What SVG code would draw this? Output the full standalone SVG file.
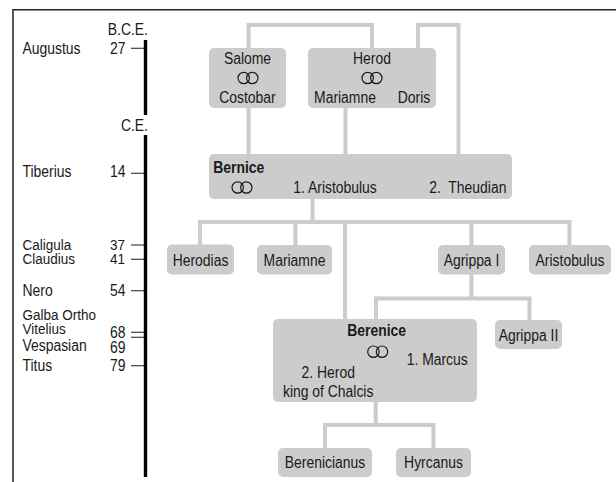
<svg xmlns="http://www.w3.org/2000/svg" width="616" height="482" viewBox="0 0 616 482">
<style>
.t{font-family:"Liberation Sans",Arial,sans-serif;font-size:16px;fill:#1a1a1a;white-space:pre}
.s{font-size:15.5px}
.b{font-weight:bold}
.m{text-anchor:middle}
.e{text-anchor:end}
.box{fill:#cccccc}
.con{fill:none;stroke:#cccccc;stroke-width:4}
.tick{stroke:#1a1a1a;stroke-width:1.1}
.ring{fill:none;stroke:#1a1a1a;stroke-width:1.2}
</style>
<defs>
<g id="rings"><circle class="ring" cx="-4.3" cy="0" r="5.7"/><circle class="ring" cx="4.3" cy="0" r="5.7"/></g>
</defs>
<rect width="616" height="482" fill="#ffffff"/>
<g id="frame" fill="none" stroke="#222222" stroke-width="1.5">
<path d="M13 482 V9.75 H616"/>
</g>
<g id="timeline">
<path d="M145.5 40 V115 M145.5 135 V477" stroke="#000000" stroke-width="3.4"/>
<path class="tick" d="M131 48.3 H145 M131 173.3 H145 M131 245 H145 M131 259.3 H145 M131 290.7 H145 M131 332.3 H145 M131 337.3 H145 M131 365.7 H145"/>
<g transform="scale(0.87 1)">
<text class="t e" x="170.11" y="35">B.C.E.</text>
<text class="t e" x="170.11" y="131">C.E.</text>
<text class="t" x="25.86" y="54.5">Augustus</text>
<text class="t" x="126.44" y="54.5">27</text>
<text class="t" x="25.86" y="177.3">Tiberius</text>
<text class="t" x="126.44" y="177.3">14</text>
<text class="t s" x="25.86" y="250">Caligula</text>
<text class="t s" x="126.44" y="250">37</text>
<text class="t s" x="25.86" y="264.3">Claudius</text>
<text class="t s" x="126.44" y="264.3">41</text>
<text class="t" x="25.86" y="296">Nero</text>
<text class="t" x="126.44" y="296">54</text>
<text class="t s" x="25.86" y="320.3">Galba Ortho</text>
<text class="t s" x="25.86" y="334.4">Vitelius</text>
<text class="t" x="126.44" y="338.3">68</text>
<text class="t" x="25.86" y="350.7">Vespasian</text>
<text class="t" x="126.44" y="353.3">69</text>
<text class="t" x="25.86" y="370.7">Titus</text>
<text class="t" x="126.44" y="370.7">79</text>
</g>
</g>
<g id="connectors">
<path class="con" d="M248.5 48 V25 H372 V48"/>
<path class="con" d="M418 48 V25 H458.5 V154"/>
<path class="con" d="M248.5 108 V154 M345.5 108 V154"/>
<path class="con" d="M312.5 199 V222"/>
<path class="con" d="M200 245 V222 H569.5 V245 M295.5 222 V245 M345 222 V319 M471.5 222 V245"/>
<path class="con" d="M471.5 274 V298.5 M376 319 V298.5 H529.5 V320"/>
<path class="con" d="M375.7 402 V425 M325 448 V425 H433.5 V448"/>
</g>
<g id="salome">
<rect class="box" x="209" y="48" width="77" height="60" rx="5"/>
<use href="#rings" x="248" y="78"/>
<g transform="scale(0.87 1)"><text class="t m" x="284.48" y="64.3">Salome</text><text class="t m" x="284.48" y="103.3">Costobar</text></g>
</g>
<g id="herod">
<rect class="box" x="308" y="48" width="128" height="60" rx="5"/>
<use href="#rings" x="372" y="78"/>
<g transform="scale(0.87 1)"><text class="t m" x="427.59" y="64.3">Herod</text><text class="t m" x="396.55" y="103.3">Mariamne</text><text class="t m" x="475.86" y="103.3">Doris</text></g>
</g>
<g id="bernice">
<rect class="box" x="209" y="154" width="303" height="45" rx="5"/>
<use href="#rings" x="242" y="187.5"/>
<g transform="scale(0.87 1)"><text class="t b" x="245.17" y="172.8">Bernice</text><text class="t" x="337.13" y="193.3">1. Aristobulus</text><text class="t" x="493.45" y="193.3">2.  Theudian</text></g>
</g>
<g id="herodias">
<rect class="box" x="167" y="244.5" width="67" height="30" rx="5"/>
<g transform="scale(0.87 1)"><text class="t m" x="230.46" y="266">Herodias</text></g>
</g>
<g id="mariamne">
<rect class="box" x="257" y="245" width="75" height="29.5" rx="5"/>
<g transform="scale(0.87 1)"><text class="t m" x="338.51" y="266">Mariamne</text></g>
</g>
<g id="agrippa1">
<rect class="box" x="438" y="245" width="67" height="29.5" rx="5"/>
<g transform="scale(0.87 1)"><text class="t m" x="541.95" y="266">Agrippa I</text></g>
</g>
<g id="aristobulus">
<rect class="box" x="529" y="245" width="82" height="29.5" rx="5"/>
<g transform="scale(0.87 1)"><text class="t m" x="655.17" y="266">Aristobulus</text></g>
</g>
<g id="berenice">
<rect class="box" x="273" y="319" width="204" height="83" rx="5"/>
<use href="#rings" x="377.7" y="351.7"/>
<g transform="scale(0.87 1)"><text class="t b m" x="432.99" y="335.7">Berenice</text><text class="t" x="467.47" y="365.5">1. Marcus</text><text class="t m" x="377.24" y="378">2. Herod</text><text class="t m" x="377.24" y="397.3">king of Chalcis</text></g>
</g>
<g id="agrippa2">
<rect class="box" x="495" y="320" width="67" height="29" rx="5"/>
<g transform="scale(0.87 1)"><text class="t m" x="607.47" y="340.8">Agrippa II</text></g>
</g>
<g id="berenicianus">
<rect class="box" x="278" y="448" width="94" height="29" rx="5"/>
<g transform="scale(0.87 1)"><text class="t m" x="373.56" y="468.5">Berenicianus</text></g>
</g>
<g id="hyrcanus">
<rect class="box" x="396" y="448" width="75" height="29" rx="5"/>
<g transform="scale(0.87 1)"><text class="t m" x="498.28" y="468.5">Hyrcanus</text></g>
</g>
</svg>
